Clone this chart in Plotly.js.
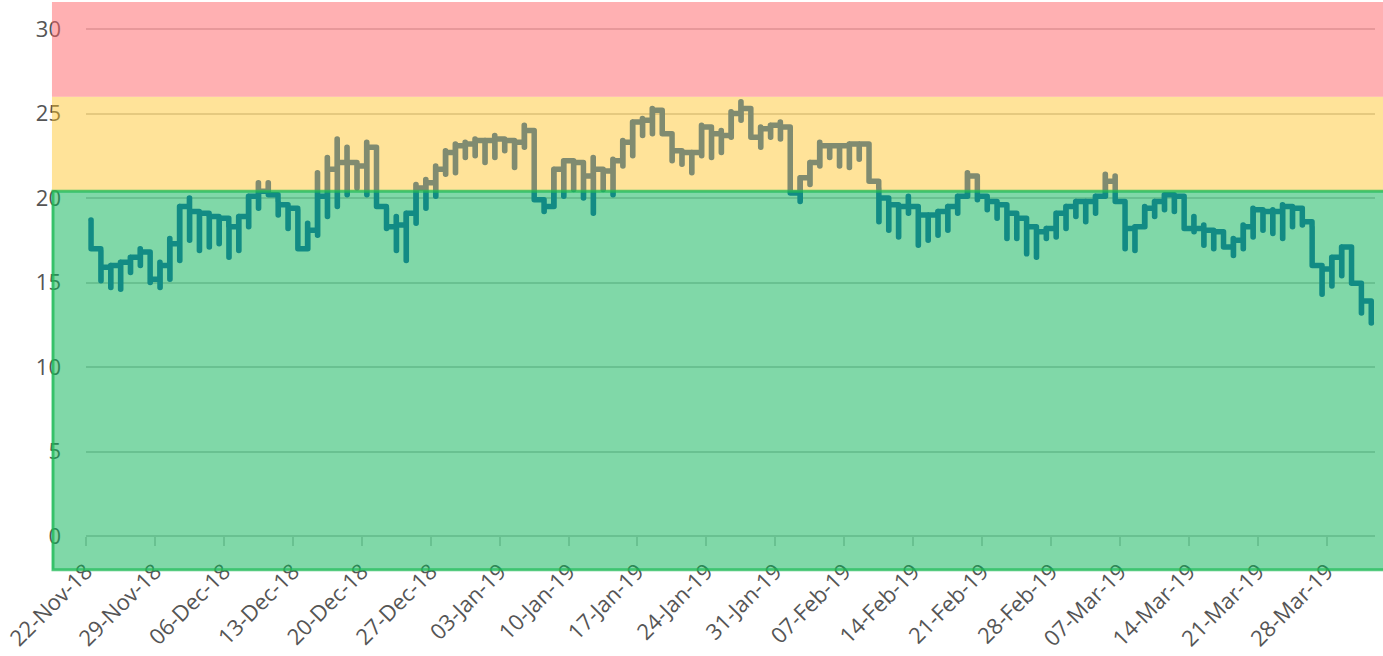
<!DOCTYPE html>
<html>
<head>
<meta charset="utf-8">
<script src="https://cdn.plot.ly/plotly-3.0.1.min.js"></script>
<style>
html,body{margin:0;padding:0;background:#fff;}
#chart{width:1383px;height:656px;}
path.js-line{stroke-linecap:round !important;stroke-linejoin:round !important;}
</style>
</head>
<body>
<div id="chart"></div>
<script>
// first day of the series; one reading per day (change happens around midday)
var startDate = '2018-11-22';
// plateau value reached each day
var levelValues = [17.0,15.9,16.0,16.2,16.5,16.8,15.2,16.0,17.3,19.5,
19.2,19.1,18.9,18.8,18.3,18.9,20.1,20.4,20.2,19.6,
19.4,17.0,18.1,20.1,21.7,22.1,22.1,21.9,23.0,19.5,
18.3,18.4,19.1,20.6,20.9,21.7,22.7,23.1,23.2,23.4,
23.4,23.5,23.4,23.3,24.0,19.9,19.5,21.7,22.2,22.1,
21.3,21.7,21.6,22.2,23.3,24.5,24.6,25.2,23.8,22.8,
22.7,22.7,24.2,23.8,23.7,25.0,25.3,23.6,24.1,24.3,
24.2,20.3,21.2,22.1,23.1,23.1,23.1,23.2,23.2,21.0,
20.0,19.6,19.5,19.5,19.0,19.0,19.2,19.5,20.1,21.3,
20.1,19.8,19.6,19.1,18.8,18.3,18.0,18.2,19.1,19.5,
19.8,19.8,20.1,21.0,19.8,18.2,18.3,19.4,19.8,20.2,
20.1,18.2,18.2,18.1,18.0,17.1,17.5,18.3,19.3,19.2,
19.2,19.5,19.4,18.6,16.0,15.8,16.5,17.1,14.95,13.9,
12.6];
// daily high reached at the change
var highValues = [18.7,16.9,16.0,16.2,16.5,17.0,16.8,16.2,17.6,19.5,
20.0,19.1,18.9,18.8,18.3,18.9,20.1,20.9,20.9,19.8,
19.6,19.3,18.5,21.5,22.4,23.5,23.0,22.1,23.3,19.5,
19.4,18.9,19.1,20.8,21.1,21.9,22.8,23.2,23.3,23.5,
23.4,23.7,23.5,23.4,24.3,24.0,19.9,21.7,22.2,22.2,
22.1,22.4,21.7,22.3,23.4,24.5,24.7,25.3,25.2,23.8,
22.8,22.7,24.3,24.2,24.0,25.1,25.7,25.3,24.2,24.3,
24.5,24.2,21.2,22.1,23.3,23.1,23.1,23.2,23.2,23.2,
20.6,20.0,19.6,20.1,19.5,19.0,19.2,19.5,20.1,21.5,
21.3,20.1,19.8,19.6,19.1,18.8,18.3,18.2,19.1,19.5,
19.8,19.8,20.1,21.4,21.3,19.8,18.3,19.5,19.8,20.2,
20.2,20.1,18.9,18.4,18.1,18.0,17.6,18.4,19.4,19.3,
19.3,19.6,19.5,19.4,18.3,16.0,16.5,17.1,17.1,14.95,
13.9];
// daily low reached at the change
var lowValues = [17.0,15.1,14.7,14.6,15.6,16.0,15.0,14.7,15.2,16.3,
17.5,16.9,17.1,17.3,16.5,16.9,18.3,19.4,20.2,19.0,
18.2,17.0,17.0,17.8,18.9,19.5,20.2,20.6,20.2,19.5,
18.2,16.9,16.3,18.5,19.4,20.1,21.4,21.5,22.4,22.5,
22.1,22.4,22.8,21.8,23.0,19.9,19.2,19.5,20.1,20.5,
20.0,19.1,20.5,20.2,21.9,22.5,23.7,23.8,23.8,22.2,
22.0,21.5,22.5,22.4,22.7,23.6,24.6,23.6,23.0,23.6,
23.5,20.3,19.8,20.8,21.9,22.4,21.9,21.8,22.3,21.0,
18.6,18.1,17.7,19.1,17.2,17.5,17.8,18.1,19.1,20.1,
19.9,19.3,18.8,17.6,17.6,16.7,16.5,17.6,17.7,18.2,
18.9,18.6,19.1,20.1,19.8,17.0,16.9,18.3,18.9,19.3,
19.2,18.2,18.0,17.2,17.0,17.1,16.6,17.0,17.7,18.1,
17.9,17.6,18.3,18.4,16.0,14.3,14.8,15.4,14.95,13.2,
12.6];
// threshold bands
var bandLow = [-2, 20.4, 26];
var bandHigh = [20.4, 26, 31.6];
var bandFill = ['rgb(12,180,88)', 'rgb(255,193,28)', 'rgb(255,97,101)'];
var bandOpacity = [0.52, 0.45, 0.5];

var yRange = [0, 31.6];
var xRange = ['2018-11-22', '2019-04-01 21:30'];

function fmt(ms) {
  var d = new Date(ms);
  function p(n){return (n<10?'0':'')+n;}
  return d.getUTCFullYear()+'-'+p(d.getUTCMonth()+1)+'-'+p(d.getUTCDate())+' '+p(d.getUTCHours())+':'+p(d.getUTCMinutes())+':00';
}
var t0 = Date.parse(startDate + 'T12:00:00Z');
var DAY = 86400000, EPS = 20*60000;
var xs = [], ys = [];
for (var k = 0; k < levelValues.length; k++) {
  var t = t0 + k*DAY;
  xs.push(fmt(t)); ys.push(highValues[k]);
  xs.push(fmt(t+EPS)); ys.push(lowValues[k]);
  xs.push(fmt(t+2*EPS)); ys.push(levelValues[k]);
}

var shapes = [];
var span = yRange[1]-yRange[0];
for (var i = 0; i < bandLow.length; i++) {
  shapes.push({
    type:'rect', xref:'paper', yref:'paper', layer:'above',
    x0:-0.0264, x1:1.01,
    y0:(bandLow[i]-yRange[0])/span, y1:(bandHigh[i]-yRange[0])/span,
    fillcolor:bandFill[i], opacity:bandOpacity[i],
    line:{width:0}
  });
}
// outline of the green (safe) band
shapes.push({
  type:'rect', xref:'paper', yref:'paper', layer:'above',
  x0:-0.0256, x1:1.01,
  y0:(bandLow[0]-yRange[0])/span, y1:(bandHigh[0]-yRange[0])/span,
  fillcolor:'rgba(0,0,0,0)',
  line:{color:'rgba(30,185,85,0.75)', width:3}
});

var trace = {
  x: xs, y: ys, type:'scatter', mode:'lines',
  line:{shape:'hv', color:'rgb(25,95,180)', width:5.5},
  hoverinfo:'x+y'
};

var layout = {
  width:1383, height:656,
  margin:{l:86, r:8, t:2, b:120},
  paper_bgcolor:'#fff', plot_bgcolor:'#fff',
  showlegend:false,
  font:{family:'Open Sans, sans-serif', size:22, color:'#555'},
  xaxis:{type:'date', range:xRange, tick0:'2018-11-22', dtick:7*DAY,
    tickformat:'%d-%b-%y', tickangle:-45, ticks:'outside', ticklen:9, tickwidth:2,
    tickcolor:'#cfcfcf', showgrid:false, zeroline:false, showline:false,
    ticklabelstandoff:4},
  yaxis:{range:yRange, dtick:5, tick0:0, showgrid:true, gridcolor:'#cfcfcf', gridwidth:2,
    zeroline:true, zerolinecolor:'#cfcfcf', zerolinewidth:2, showline:false, ticks:'',
    ticklabelstandoff:24},
  shapes: shapes
};
Plotly.newPlot('chart', [trace], layout, {displayModeBar:false, staticPlot:true});
</script>
</body>
</html>
